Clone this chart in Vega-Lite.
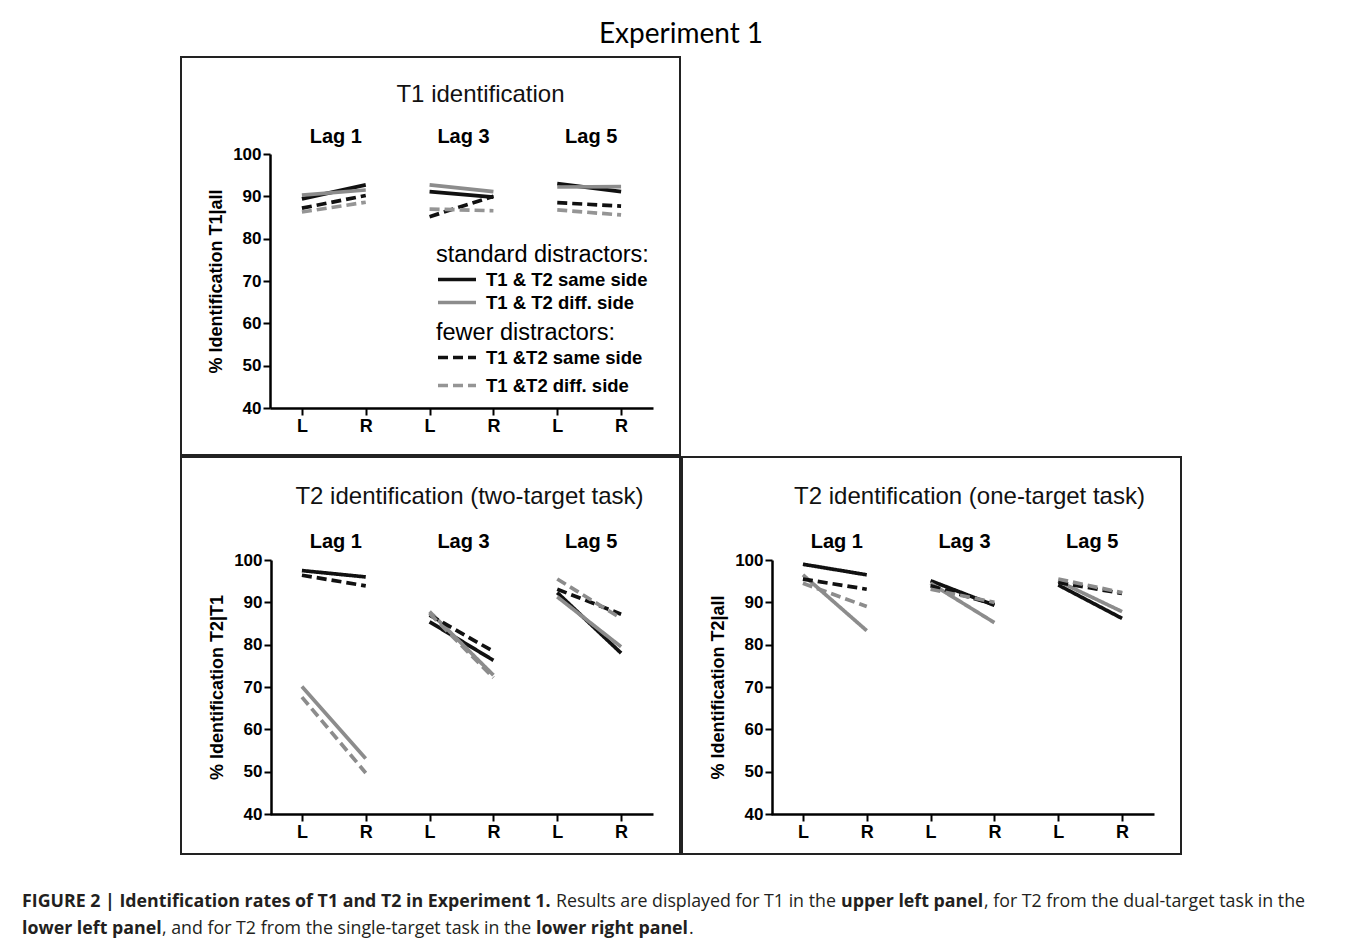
{
  "$schema": "https://vega.github.io/schema/vega-lite/v6.json",
  "padding": {"left": 22, "top": 21, "right": 0, "bottom": 0},
  "autosize": {"type": "pad"},
  "background": "#ffffff",
  "datasets": {
    "p1": [
      {"d": "standard", "s": "same", "lag": 1, "pos": 1, "v": 89.4},
      {"d": "standard", "s": "same", "lag": 1, "pos": 2, "v": 92.7},
      {"d": "standard", "s": "same", "lag": 3, "pos": 3, "v": 91.1},
      {"d": "standard", "s": "same", "lag": 3, "pos": 4, "v": 89.8},
      {"d": "standard", "s": "same", "lag": 5, "pos": 5, "v": 93.0},
      {"d": "standard", "s": "same", "lag": 5, "pos": 6, "v": 91.1},
      {"d": "standard", "s": "diff", "lag": 1, "pos": 1, "v": 90.3},
      {"d": "standard", "s": "diff", "lag": 1, "pos": 2, "v": 91.5},
      {"d": "standard", "s": "diff", "lag": 3, "pos": 3, "v": 92.7},
      {"d": "standard", "s": "diff", "lag": 3, "pos": 4, "v": 91.1},
      {"d": "standard", "s": "diff", "lag": 5, "pos": 5, "v": 92.2},
      {"d": "standard", "s": "diff", "lag": 5, "pos": 6, "v": 92.3},
      {"d": "fewer", "s": "same", "lag": 1, "pos": 1, "v": 87.2},
      {"d": "fewer", "s": "same", "lag": 1, "pos": 2, "v": 90.2},
      {"d": "fewer", "s": "same", "lag": 3, "pos": 3, "v": 85.2},
      {"d": "fewer", "s": "same", "lag": 3, "pos": 4, "v": 90.0},
      {"d": "fewer", "s": "same", "lag": 5, "pos": 5, "v": 88.5},
      {"d": "fewer", "s": "same", "lag": 5, "pos": 6, "v": 87.7},
      {"d": "fewer", "s": "diff", "lag": 1, "pos": 1, "v": 86.3},
      {"d": "fewer", "s": "diff", "lag": 1, "pos": 2, "v": 88.6},
      {"d": "fewer", "s": "diff", "lag": 3, "pos": 3, "v": 87.0},
      {"d": "fewer", "s": "diff", "lag": 3, "pos": 4, "v": 86.6},
      {"d": "fewer", "s": "diff", "lag": 5, "pos": 5, "v": 86.8},
      {"d": "fewer", "s": "diff", "lag": 5, "pos": 6, "v": 85.6}
    ],
    "p2": [
      {"d": "standard", "s": "same", "lag": 1, "pos": 1, "v": 97.5},
      {"d": "standard", "s": "same", "lag": 1, "pos": 2, "v": 96.0},
      {"d": "standard", "s": "same", "lag": 3, "pos": 3, "v": 85.4},
      {"d": "standard", "s": "same", "lag": 3, "pos": 4, "v": 76.3},
      {"d": "standard", "s": "same", "lag": 5, "pos": 5, "v": 92.3},
      {"d": "standard", "s": "same", "lag": 5, "pos": 6, "v": 78.0},
      {"d": "standard", "s": "diff", "lag": 1, "pos": 1, "v": 70.1},
      {"d": "standard", "s": "diff", "lag": 1, "pos": 2, "v": 53.1},
      {"d": "standard", "s": "diff", "lag": 3, "pos": 3, "v": 87.8},
      {"d": "standard", "s": "diff", "lag": 3, "pos": 4, "v": 72.8},
      {"d": "standard", "s": "diff", "lag": 5, "pos": 5, "v": 91.3},
      {"d": "standard", "s": "diff", "lag": 5, "pos": 6, "v": 79.5},
      {"d": "fewer", "s": "same", "lag": 1, "pos": 1, "v": 96.4},
      {"d": "fewer", "s": "same", "lag": 1, "pos": 2, "v": 93.9},
      {"d": "fewer", "s": "same", "lag": 3, "pos": 3, "v": 87.0},
      {"d": "fewer", "s": "same", "lag": 3, "pos": 4, "v": 78.4},
      {"d": "fewer", "s": "same", "lag": 5, "pos": 5, "v": 93.1},
      {"d": "fewer", "s": "same", "lag": 5, "pos": 6, "v": 87.2},
      {"d": "fewer", "s": "diff", "lag": 1, "pos": 1, "v": 67.6},
      {"d": "fewer", "s": "diff", "lag": 1, "pos": 2, "v": 49.7},
      {"d": "fewer", "s": "diff", "lag": 3, "pos": 3, "v": 87.4},
      {"d": "fewer", "s": "diff", "lag": 3, "pos": 4, "v": 72.2},
      {"d": "fewer", "s": "diff", "lag": 5, "pos": 5, "v": 95.5},
      {"d": "fewer", "s": "diff", "lag": 5, "pos": 6, "v": 86.2}
    ],
    "p3": [
      {"d": "standard", "s": "same", "lag": 1, "pos": 1, "v": 99.0},
      {"d": "standard", "s": "same", "lag": 1, "pos": 2, "v": 96.5},
      {"d": "standard", "s": "same", "lag": 3, "pos": 3, "v": 95.1},
      {"d": "standard", "s": "same", "lag": 3, "pos": 4, "v": 89.3},
      {"d": "standard", "s": "same", "lag": 5, "pos": 5, "v": 94.1},
      {"d": "standard", "s": "same", "lag": 5, "pos": 6, "v": 86.2},
      {"d": "standard", "s": "diff", "lag": 1, "pos": 1, "v": 96.5},
      {"d": "standard", "s": "diff", "lag": 1, "pos": 2, "v": 83.3},
      {"d": "standard", "s": "diff", "lag": 3, "pos": 3, "v": 94.5},
      {"d": "standard", "s": "diff", "lag": 3, "pos": 4, "v": 85.2},
      {"d": "standard", "s": "diff", "lag": 5, "pos": 5, "v": 95.0},
      {"d": "standard", "s": "diff", "lag": 5, "pos": 6, "v": 87.8},
      {"d": "fewer", "s": "same", "lag": 1, "pos": 1, "v": 95.5},
      {"d": "fewer", "s": "same", "lag": 1, "pos": 2, "v": 93.1},
      {"d": "fewer", "s": "same", "lag": 3, "pos": 3, "v": 93.9},
      {"d": "fewer", "s": "same", "lag": 3, "pos": 4, "v": 89.5},
      {"d": "fewer", "s": "same", "lag": 5, "pos": 5, "v": 94.7},
      {"d": "fewer", "s": "same", "lag": 5, "pos": 6, "v": 92.1},
      {"d": "fewer", "s": "diff", "lag": 1, "pos": 1, "v": 94.5},
      {"d": "fewer", "s": "diff", "lag": 1, "pos": 2, "v": 89.0},
      {"d": "fewer", "s": "diff", "lag": 3, "pos": 3, "v": 93.1},
      {"d": "fewer", "s": "diff", "lag": 3, "pos": 4, "v": 90.0},
      {"d": "fewer", "s": "diff", "lag": 5, "pos": 5, "v": 95.5},
      {"d": "fewer", "s": "diff", "lag": 5, "pos": 6, "v": 92.3}
    ],
    "lags": [
      {"lag": "Lag 1", "pos": 1.5},
      {"lag": "Lag 3", "pos": 3.5},
      {"lag": "Lag 5", "pos": 5.5}
    ]
  },
  "vconcat": [
    {
      "hconcat": [
        {
          "width": 158, "height": 1,
          "view": {"stroke": null},
          "data": {"values": [{}]},
          "mark": {"type": "text", "text": ""}
        },
        {
          "title": {"text": "Experiment 1", "anchor": "middle", "frame": "bounds", "font": "Lato", "fontSize": 28, "fontWeight": "normal", "color": "#000000", "baseline": "alphabetic", "offset": -15},
          "spacing": 0,
          "vconcat": [
            {
              "width": 499, "height": 398,
              "view": {"stroke": "#222222", "strokeWidth": 2},
              "title": {"text": "T1 identification", "anchor": "middle", "frame": "group", "dx": 50, "font": "Liberation Sans", "fontSize": 24, "fontWeight": "normal", "color": "#111111", "baseline": "alphabetic", "offset": -69},
              "encoding": {
                "x": {"field": "pos", "type": "quantitative", "scale": {"domain": [0.5, 6.5], "range": [89, 472], "nice": false, "zero": false},
                      "axis": {"values": [1, 2, 3, 4, 5, 6], "labelExpr": "datum.value % 2 == 1 ? 'L' : 'R'", "offset": -47, "title": null}}
              },
              "layer": [
                {
                  "data": {"name": "p1"},
                  "transform": [{"filter": "datum.d == 'standard'"}],
                  "mark": {"type": "line", "strokeWidth": 3.7},
                  "encoding": {
                    "y": {"field": "v", "type": "quantitative", "scale": {"domain": [40, 100], "range": [351, 97], "nice": false, "zero": false},
                          "axis": {"values": [40, 50, 60, 70, 80, 90, 100], "offset": -89, "title": "% Identification T1|all"}},
                    "detail": {"field": "lag"},
                    "color": {"field": "s", "type": "nominal", "scale": {"domain": ["same", "diff"], "range": ["#111111", "#8c8c8c"]},
                              "legend": {"title": "standard distractors:", "orient": "none", "legendX": 255, "legendY": 186, "rowPadding": 1,
                                         "labelExpr": "datum.label == 'same' ? 'T1 & T2 same side' : 'T1 & T2 diff. side'"}}
                  }
                },
                {
                  "data": {"name": "p1"},
                  "transform": [{"filter": "datum.d == 'fewer'"}],
                  "mark": {"type": "line", "strokeWidth": 3.7},
                  "encoding": {
                    "y": {"field": "v", "type": "quantitative", "scale": {"domain": [40, 100], "range": [351, 97], "nice": false, "zero": false},
                          "axis": {"values": [40, 50, 60, 70, 80, 90, 100], "offset": -89, "title": "% Identification T1|all"}},
                    "detail": {"field": "lag"},
                    "color": {"field": "s", "type": "nominal", "scale": {"domain": ["same", "diff"], "range": ["#111111", "#959595"]},
                              "legend": {"title": "fewer distractors:", "orient": "none", "legendX": 255, "legendY": 264, "rowPadding": 6,
                                         "labelExpr": "datum.label == 'same' ? 'T1 &T2 same side' : 'T1 &T2 diff. side'"}},
                    "strokeDash": {"field": "s", "type": "nominal", "scale": {"domain": ["same", "diff"], "range": [[10, 5], [10, 5]]},
                              "legend": {"title": "fewer distractors:", "orient": "none", "legendX": 255, "legendY": 264, "rowPadding": 6,
                                         "labelExpr": "datum.label == 'same' ? 'T1 &T2 same side' : 'T1 &T2 diff. side'"}}
                  }
                },
                {
                  "data": {"name": "lags"},
                  "mark": {"type": "text", "font": "Liberation Sans", "fontWeight": "bold", "fontSize": 20, "dx": 2, "baseline": "middle", "color": "#000000"},
                  "encoding": {
                    "y": {"datum": 104.1, "type": "quantitative", "scale": {"domain": [40, 100], "range": [351, 97], "nice": false, "zero": false},
                          "axis": {"values": [40, 50, 60, 70, 80, 90, 100], "offset": -89, "title": "% Identification T1|all"}},
                    "text": {"field": "lag"}
                  }
                }
              ],
              "resolve": {"scale": {"color": "independent", "strokeDash": "independent"}}
            },
            {
              "spacing": 0,
              "hconcat": [
                {
                  "width": 499, "height": 397,
                  "view": {"stroke": "#222222", "strokeWidth": 2},
                  "title": {"text": "T2 identification (two-target task)", "anchor": "middle", "frame": "group", "dx": 39, "font": "Liberation Sans", "fontSize": 24, "fontWeight": "normal", "color": "#111111", "baseline": "alphabetic", "offset": -71},
                  "encoding": {
                    "x": {"field": "pos", "type": "quantitative", "scale": {"domain": [0.5, 6.5], "range": [89, 472], "nice": false, "zero": false},
                          "axis": {"values": [1, 2, 3, 4, 5, 6], "labelExpr": "datum.value % 2 == 1 ? 'L' : 'R'", "offset": -40, "title": null}}
                  },
                  "layer": [
                    {
                      "data": {"name": "p2"},
                      "mark": {"type": "line", "strokeWidth": 3.7},
                      "encoding": {
                        "y": {"field": "v", "type": "quantitative", "scale": {"domain": [40, 100], "range": [357, 103], "nice": false, "zero": false},
                              "axis": {"values": [40, 50, 60, 70, 80, 90, 100], "offset": -90, "title": "% Identification T2|T1"}},
                        "detail": {"field": "lag"},
                        "color": {"field": "s", "type": "nominal", "scale": {"domain": ["same", "diff"], "range": ["#111111", "#8c8c8c"]}, "legend": null},
                        "strokeDash": {"field": "d", "type": "nominal", "scale": {"domain": ["standard", "fewer"], "range": [[1, 0], [10, 5]]}, "legend": null}
                      }
                    },
                    {
                      "data": {"name": "lags"},
                      "mark": {"type": "text", "font": "Liberation Sans", "fontWeight": "bold", "fontSize": 20, "dx": 2, "baseline": "middle", "color": "#000000"},
                      "encoding": {
                        "y": {"datum": 104.2, "type": "quantitative", "scale": {"domain": [40, 100], "range": [357, 103], "nice": false, "zero": false},
                              "axis": {"values": [40, 50, 60, 70, 80, 90, 100], "offset": -90, "title": "% Identification T2|T1"}},
                        "text": {"field": "lag"}
                      }
                    }
                  ]
                },
                {
                  "width": 499, "height": 397,
                  "view": {"stroke": "#222222", "strokeWidth": 2},
                  "title": {"text": "T2 identification (one-target task)", "anchor": "middle", "frame": "group", "dx": 38, "font": "Liberation Sans", "fontSize": 24, "fontWeight": "normal", "color": "#111111", "baseline": "alphabetic", "offset": -71},
                  "encoding": {
                    "x": {"field": "pos", "type": "quantitative", "scale": {"domain": [0.5, 6.5], "range": [89, 472], "nice": false, "zero": false},
                          "axis": {"values": [1, 2, 3, 4, 5, 6], "labelExpr": "datum.value % 2 == 1 ? 'L' : 'R'", "offset": -40, "title": null}}
                  },
                  "layer": [
                    {
                      "data": {"name": "p3"},
                      "mark": {"type": "line", "strokeWidth": 3.7},
                      "encoding": {
                        "y": {"field": "v", "type": "quantitative", "scale": {"domain": [40, 100], "range": [357, 103], "nice": false, "zero": false},
                              "axis": {"values": [40, 50, 60, 70, 80, 90, 100], "offset": -90, "title": "% Identification T2|all"}},
                        "detail": {"field": "lag"},
                        "color": {"field": "s", "type": "nominal", "scale": {"domain": ["same", "diff"], "range": ["#111111", "#8c8c8c"]}, "legend": null},
                        "strokeDash": {"field": "d", "type": "nominal", "scale": {"domain": ["standard", "fewer"], "range": [[1, 0], [10, 5]]}, "legend": null}
                      }
                    },
                    {
                      "data": {"name": "lags"},
                      "mark": {"type": "text", "font": "Liberation Sans", "fontWeight": "bold", "fontSize": 20, "dx": 2, "baseline": "middle", "color": "#000000"},
                      "encoding": {
                        "y": {"datum": 104.2, "type": "quantitative", "scale": {"domain": [40, 100], "range": [357, 103], "nice": false, "zero": false},
                              "axis": {"values": [40, 50, 60, 70, 80, 90, 100], "offset": -90, "title": "% Identification T2|all"}},
                        "text": {"field": "lag"}
                      }
                    }
                  ]
                }
              ],
              "resolve": {"scale": {"color": "independent", "strokeDash": "independent", "x": "independent", "y": "independent"}}
            }
          ],
          "resolve": {"scale": {"color": "independent", "strokeDash": "independent", "x": "independent", "y": "independent"}}
        }
      ],
      "spacing": 0
    },
    {
      "spacing": -3,
      "vconcat": [
        {
          "spacing": 0,
          "hconcat": [
            {"width": 1, "height": 1, "view": {"stroke": null}, "data": {"values": [{}]}, "mark": {"type": "text", "text": ""},
             "title": {"text": "FIGURE 2 | Identification rates of T1 and T2 in Experiment 1. \u200b", "anchor": "start", "frame": "group", "offset": 0, "font": "Open Sans", "fontSize": 17.8, "fontWeight": "bold", "color": "#231f20", "limit": 2000}},
            {"width": 1, "height": 1, "view": {"stroke": null}, "data": {"values": [{}]}, "mark": {"type": "text", "text": ""},
             "title": {"text": "Results are displayed for T1 in the \u200b", "anchor": "start", "frame": "group", "offset": 0, "font": "Open Sans", "fontSize": 17.8, "fontWeight": "normal", "color": "#231f20", "limit": 2000}},
            {"width": 1, "height": 1, "view": {"stroke": null}, "data": {"values": [{}]}, "mark": {"type": "text", "text": ""},
             "title": {"text": "upper left panel", "anchor": "start", "frame": "group", "offset": 0, "font": "Open Sans", "fontSize": 17.8, "fontWeight": "bold", "color": "#231f20", "limit": 2000}},
            {"width": 1, "height": 1, "view": {"stroke": null}, "data": {"values": [{}]}, "mark": {"type": "text", "text": ""},
             "title": {"text": ", for T2 from the dual-target task in the", "anchor": "start", "frame": "group", "offset": 0, "font": "Open Sans", "fontSize": 17.8, "fontWeight": "normal", "color": "#231f20", "limit": 2000}}
          ]
        },
        {
          "spacing": 0,
          "hconcat": [
            {"width": 1, "height": 1, "view": {"stroke": null}, "data": {"values": [{}]}, "mark": {"type": "text", "text": ""},
             "title": {"text": "lower left panel", "anchor": "start", "frame": "group", "offset": 0, "font": "Open Sans", "fontSize": 17.8, "fontWeight": "bold", "color": "#231f20", "limit": 2000}},
            {"width": 1, "height": 1, "view": {"stroke": null}, "data": {"values": [{}]}, "mark": {"type": "text", "text": ""},
             "title": {"text": ", and for T2 from the single-target task in the \u200b", "anchor": "start", "frame": "group", "offset": 0, "font": "Open Sans", "fontSize": 17.8, "fontWeight": "normal", "color": "#231f20", "limit": 2000}},
            {"width": 1, "height": 1, "view": {"stroke": null}, "data": {"values": [{}]}, "mark": {"type": "text", "text": ""},
             "title": {"text": "lower right panel", "anchor": "start", "frame": "group", "offset": 0, "font": "Open Sans", "fontSize": 17.8, "fontWeight": "bold", "color": "#231f20", "limit": 2000}},
            {"width": 1, "height": 1, "view": {"stroke": null}, "data": {"values": [{}]}, "mark": {"type": "text", "text": ""},
             "title": {"text": ".", "anchor": "start", "frame": "group", "offset": 0, "font": "Open Sans", "fontSize": 17.8, "fontWeight": "normal", "color": "#231f20", "limit": 2000}}
          ]
        }
      ]
    }
  ],
  "spacing": 37,
  "resolve": {"scale": {"color": "independent", "strokeDash": "independent", "x": "independent", "y": "independent"}},
  "config": {
    "font": "Liberation Sans",
    "view": {"stroke": null},
    "axis": {"domainColor": "#000000", "domainWidth": 2.5, "tickColor": "#000000", "tickWidth": 2, "tickSize": 7,
             "labelFont": "Liberation Sans", "labelFontWeight": "bold", "labelFontSize": 17, "labelColor": "#000000",
             "grid": false, "titleFont": "Liberation Sans", "titleFontWeight": "bold", "titleFontSize": 18, "titleColor": "#000000", "labelFlush": false},
    "axisX": {"labelFontSize": 18, "labelPadding": 2},
    "axisY": {"labelPadding": 2, "titlePadding": 7},
    "legend": {"symbolType": "stroke", "symbolSize": 1444, "symbolStrokeWidth": 3.7, "clipHeight": 22, "rowPadding": 2,
               "labelOffset": 8, "padding": 0, "labelFont": "Liberation Sans", "labelFontWeight": "bold", "labelFontSize": 18.5,
               "labelColor": "#000000", "labelLimit": 400, "titleFont": "Liberation Sans", "titleFontWeight": "normal",
               "titleFontSize": 23.5, "titleColor": "#000000", "titleLimit": 400, "titlePadding": 2}
  }
}
